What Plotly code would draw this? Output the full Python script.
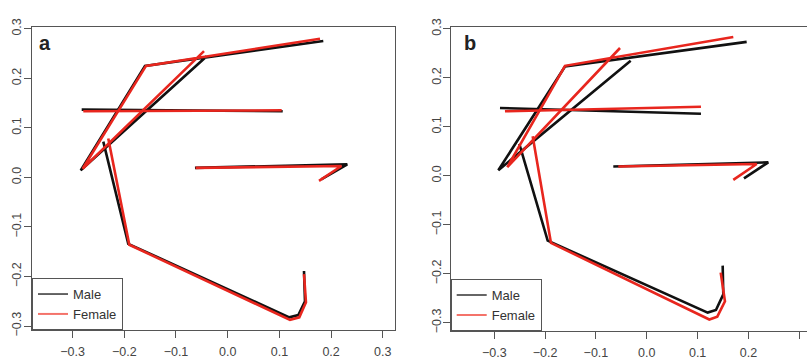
import plotly.graph_objects as go

# ---- data (None separates disconnected outline segments) ----
a_male_x = [-0.0406, -0.2843, -0.1600, 0.1849, None, -0.2824, 0.1064, None,
            -0.0633, 0.2313, 0.1810, None, -0.2406, -0.1923, 0.1192, 0.1366, 0.1495, 0.1476]
a_male_y = [0.2445, 0.0143, 0.2251, 0.2754, None, 0.1368, 0.1335, None,
            0.0193, 0.0265, -0.0040, None, 0.0723, -0.1340, -0.2824, -0.2778, -0.2501, -0.1888]
a_female_x = [-0.0458, -0.2805, -0.1580, 0.1785, None, -0.2793, 0.1044, None,
              -0.0620, 0.2200, 0.1766, None, -0.2310, -0.1903, 0.1205, 0.1385, 0.1514, 0.1476]
a_female_y = [0.2547, 0.0174, 0.2251, 0.2799, None, 0.1335, 0.1354, None,
              0.0193, 0.0230, -0.0070, None, 0.0787, -0.1360, -0.2874, -0.2824, -0.2520, -0.1953]

b_male_x = [-0.0317, -0.2921, -0.1609, 0.1965, None, -0.2888, 0.1066, None,
            -0.0659, 0.2390, 0.1912, None, -0.2508, -0.1950, 0.1198, 0.1361, 0.1505, 0.1493]
b_male_y = [0.2348, 0.0112, 0.2231, 0.2734, None, 0.1384, 0.1266, None,
            0.0190, 0.0274, -0.0053, None, 0.0652, -0.1325, -0.2793, -0.2740, -0.2421, -0.1834]
b_female_x = [-0.0527, -0.2744, -0.1609, 0.1702, None, -0.2790, 0.1066, None,
              -0.0561, 0.2162, 0.1702, None, -0.2245, -0.1885, 0.1230, 0.1387, 0.1538, 0.1454]
b_female_y = [0.2609, 0.0176, 0.2245, 0.2832, None, 0.1317, 0.1409, None,
              0.0190, 0.0241, -0.0084, None, 0.0808, -0.1370, -0.2935, -0.2877, -0.2564, -0.1977]

tick_vals = [-0.3, -0.2, -0.1, 0.0, 0.1, 0.2, 0.3]
tick_text = ["\u22120.3", "\u22120.2", "\u22120.1", "0.0", "0.1", "0.2", "0.3"]
series_names = ["Male", "Female"]
panel_labels = ["a", "b"]

BLACK = "#111111"
RED = "#e8261e"
LW = 2.6
FONT = "Liberation Sans, Arial, Helvetica, sans-serif"

fig = go.Figure()

panels = [
    ("x", "y", "legend", a_male_x, a_male_y, a_female_x, a_female_y),
    ("x2", "y2", "legend2", b_male_x, b_male_y, b_female_x, b_female_y),
]
for xa, ya, leg, mx, my, fx, fy in panels:
    fig.add_trace(go.Scatter(x=mx, y=my, mode="lines", xaxis=xa, yaxis=ya,
                             line=dict(color=BLACK, width=LW), showlegend=False,
                             connectgaps=False, hoverinfo="skip"))
    fig.add_trace(go.Scatter(x=fx, y=fy, mode="lines", xaxis=xa, yaxis=ya,
                             line=dict(color=RED, width=LW), showlegend=False,
                             connectgaps=False, hoverinfo="skip"))
    # legend entries (thin lines as in the original key)
    fig.add_trace(go.Scatter(x=[None], y=[None], mode="lines", xaxis=xa, yaxis=ya,
                             name=series_names[0], legend=leg,
                             line=dict(color="#333333", width=1.5)))
    fig.add_trace(go.Scatter(x=[None], y=[None], mode="lines", xaxis=xa, yaxis=ya,
                             name=series_names[1], legend=leg,
                             line=dict(color="#f4736a", width=2)))

W, H = 807, 361
axis_common = dict(
    showgrid=False, zeroline=False, showline=True, linecolor="#555555", linewidth=1,
    ticks="outside", ticklen=7, tickcolor="#555555", tickwidth=1,
    tickvals=tick_vals, ticktext=tick_text,
    tickfont=dict(family=FONT, size=12.5, color="#444444"),
)

fig.update_layout(
    width=W, height=H,
    margin=dict(l=0, r=0, t=0, b=0),
    paper_bgcolor="white", plot_bgcolor="white",
    xaxis=dict(axis_common, domain=[32 / W, 395 / W], range=[-0.3785, 0.3236],
               anchor="y", mirror=True, ticklabelstandoff=3),
    yaxis=dict(axis_common, domain=[(H - 335) / H, (H - 19) / H], range=[-0.3081, 0.3031],
               anchor="x", mirror=True, tickangle=-90, ticklabelstandoff=-2),
    xaxis2=dict(axis_common, domain=[450.7 / W, 1.0], range=[-0.3858, 0.3152],
                anchor="y2", mirror=True, ticklabelstandoff=3),
    yaxis2=dict(axis_common, domain=[(H - 336) / H, (H - 18.3) / H], range=[-0.317, 0.3047],
                anchor="x2", mirror=False, tickangle=-90, ticklabelstandoff=-3),
    legend=dict(x=32 / W, y=(H - 335) / H, xanchor="left", yanchor="bottom",
                bgcolor="white", bordercolor="#555555", borderwidth=1,
                font=dict(family=FONT, size=13, color="#333333"), tracegroupgap=0),
    legend2=dict(x=450.7 / W, y=(H - 336) / H, xanchor="left", yanchor="bottom",
                 bgcolor="white", bordercolor="#555555", borderwidth=1,
                 font=dict(family=FONT, size=13, color="#333333"), tracegroupgap=0),
    annotations=[
        dict(text="<b>%s</b>" % panel_labels[0], x=45 / W, y=1 - 35 / H, xref="paper", yref="paper",
             xanchor="center", yanchor="middle", showarrow=False,
             font=dict(family=FONT, size=20, color="#222222")),
        dict(text="<b>%s</b>" % panel_labels[1], x=470 / W, y=1 - 35 / H, xref="paper", yref="paper",
             xanchor="center", yanchor="middle", showarrow=False,
             font=dict(family=FONT, size=20, color="#222222")),
    ],
)

fig.write_html(
    "out.html",
    config={"displayModeBar": False},
    post_script="document.body.style.margin='0';document.body.style.overflow='hidden';",
)
